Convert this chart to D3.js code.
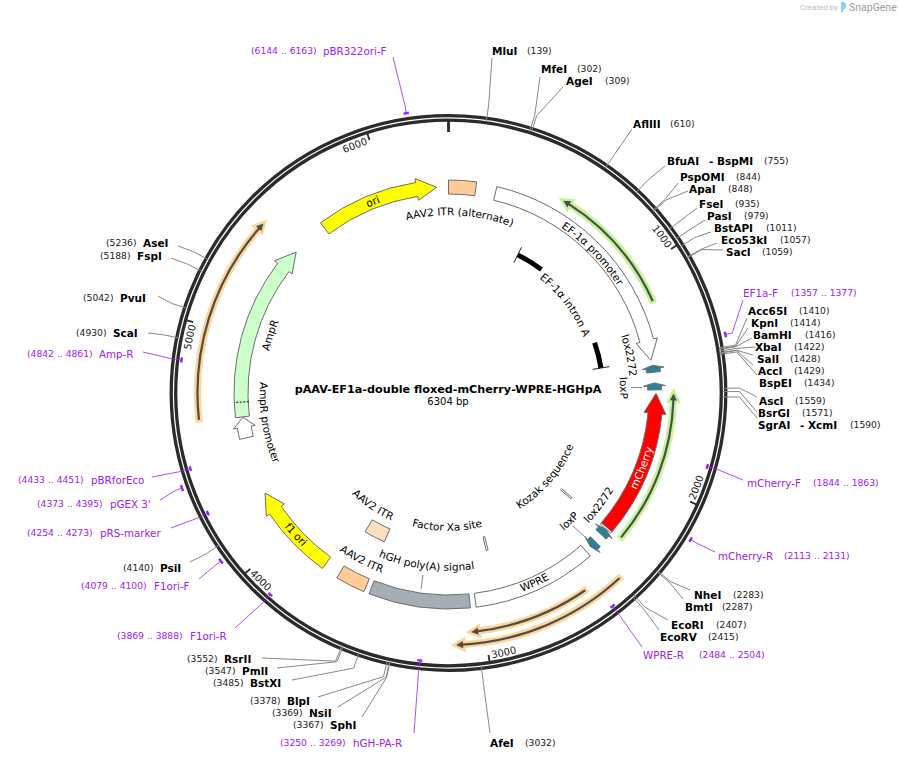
<!DOCTYPE html>
<html>
<head>
<meta charset="utf-8">
<style>
  body { margin: 0; background: #fff; }
  text { font-family: "DejaVu Sans", sans-serif; }
</style>
<script src="https://cdn.jsdelivr.net/npm/d3@7"></script>
</head>
<body>
<div id="chart"></div>
<script>
var plasmidName = "pAAV-EF1a-double floxed-mCherry-WPRE-HGHpA";
var plasmidLength = 6304;
var rulerTicks = [0, 1000, 2000, 3000, 4000, 5000, 6000];

// enzyme sites
var enzymeNames = ["MluI", "MfeI", "AgeI", "AflIII", "BfuAI", "PspOMI", "ApaI", "FseI", "PasI", "BstAPI", "Eco53kI", "SacI",
  "Acc65I", "KpnI", "BamHI", "XbaI", "SalI", "AccI", "BspEI", "AscI", "BsrGI", "SgrAI",
  "NheI", "BmtI", "EcoRI", "EcoRV", "AfeI",
  "SphI", "NsiI", "BlpI", "BstXI", "PmlI", "RsrII", "PsiI", "ScaI", "PvuI", "FspI", "AseI"];
var enzymeSites = [139, 302, 309, 610, 755, 844, 848, 935, 979, 1011, 1057, 1059,
  1410, 1414, 1416, 1422, 1428, 1429, 1434, 1559, 1571, 1590,
  2283, 2287, 2407, 2415, 3032,
  3367, 3369, 3378, 3485, 3547, 3552, 4140, 4930, 5042, 5188, 5236];
var enzymeAlso = { BfuAI: "- BspMI", SgrAI: "- XcmI" };

// primers
var primerNames = ["pBR322ori-F", "EF1a-F", "mCherry-F", "mCherry-R", "WPRE-R", "hGH-PA-R", "F1ori-R", "F1ori-F", "pRS-marker", "pGEX 3'", "pBRforEco", "Amp-R"];
var primerStarts = [6144, 1357, 1844, 2113, 2484, 3250, 3869, 4079, 4254, 4373, 4433, 4842];
var primerEnds = [6163, 1377, 1863, 2131, 2504, 3269, 3888, 4100, 4273, 4395, 4451, 4861];
var primerOutside = [true, true, false, true, false, false, false, true, false, true, false, false];

// plain block features
var blockNames = ["AAV2 ITR (alternate)", "hGH poly(A) signal", "WPRE", "AAV2 ITR", "AAV2 ITR inner", "Factor Xa site", "Kozak sequence", "ATG"];
var blockStarts = [0, 3050, 2434, 3556, 3560, 2904, 2281, 2282];
var blockEnds = [133, 3530, 3023, 3697, 3695, 2916, 2291, 2291];

// directional features, tail then tip
var arrowNames = ["ori", "EF-1α promoter", "AmpR", "AmpR promoter", "f1 ori", "mCherry", "lox2272", "loxP", "lox2272", "loxP"];
var arrowTails = [5657, 231, 4612, 4509, 3777, 2282, 1475, 1561, 2326, 2370];
var arrowTips = [6246, 1415, 5477, 4610, 4227, 1578, 1441, 1527, 2292, 2404];

// open reading frames, tail then tip
var orfTails = [1151, 2275, 2544, 2403, 4620];
var orfTips = [540, 1578, 3057, 3122, 5472];

// EF-1a intron A is drawn in two pieces with its label in the gap
var intronPieces = [[466, 648], [1244, 1413]];

// feature labels, by the position on the map they sit at
var labelTexts = ["ori", "AAV2 ITR (alternate)", "EF-1α promoter", "EF-1α intron A", "lox2272", "loxP", "mCherry", "lox2272", "loxP", "Kozak sequence", "WPRE", "Factor Xa site", "hGH poly(A) signal", "AAV2 ITR", "AAV2 ITR", "f1 ori", "AmpR promoter", "AmpR"];
var labelSites = [5926, 64, 805, 928, 1370, 1547, 1947, 2218, 2394, 2290, 2725, 3162, 3281, 3634, 3747, 3978, 4565, 5043];

// layout of everything below -----------------------------------------------
var w = 898, h = 760;
var cx = 448.5, cy = 393;
var bodyHalf = 7, headHalf = 11;

var enzymeLabelX = [492, 541, 566, 633, 667, 680, 689, 699, 707, 714, 721, 726,
  748, 751, 753, 755, 757, 758, 759, 759, 758, 758,
  694, 685, 671, 660, 490,
  330, 309, 287, 250, 242, 224, 160, 113, 120, 137, 143];
var enzymeLabelY = [51, 69, 81, 124, 161, 177, 189, 204, 216, 228, 240, 252,
  311, 323, 335, 347, 359, 371, 383, 401, 413, 425,
  595, 607, 625, 637, 743,
  725, 713, 701, 683, 671, 659, 568, 333, 298, 256, 243];
var enzymeSiteX = [527, 577, 605, 670, 764, 736, 728, 735, 744, 766, 780, 762,
  799, 790, 805, 794, 790, 794, 804, 795, 802, 850,
  733, 722, 716, 708, 525,
  293, 272, 250, 213, 205, 187, 123, 76, 83, 100, 106];
var enzymeAlsoX = { BfuAI: 709, SgrAI: 800 };
var enzymeLeaderEnds = [[492, 58], [540, 77], [563, 87], [632, 129], [665, 166], [678, 183], [688, 191], [697, 208], [705, 220], [711, 232], [717, 243], [723, 250],
  [747, 318], [748, 328], [752, 338], [755, 347], [753, 355], [753, 365], [757, 375], [757, 397], [757, 412], [757, 418],
  [690, 590], [683, 599], [668, 620], [659, 630], [490, 733],
  [362, 717], [338, 707], [318, 697], [292, 680], [277, 668], [262, 658], [190, 562], [148, 333], [158, 296], [171, 258], [178, 246]];

var primerNameX = [323, 743, 747, 718, 643, 353, 190, 154, 100, 110, 91, 99];
var primerSiteX = [251, 791, 813, 784, 699, 280, 117, 81, 27, 37, 18, 27];
var primerLabelY = [51, 293, 483, 556, 655, 743, 636, 586, 533, 504, 480, 354];
var primerLeaderEnds = [[393, 57], [743, 300], [743, 480], [715, 552], [642, 647], [414, 733], [235, 628], [199, 579], [171, 528], [160, 500], [152, 477], [143, 352]];

var blockFills = ["#FFCC99", "#A6ADB4", "#FFFFFF", "#FFCC99", "#FDDFC2", "#FFFFFF", "#FFFFFF", "#FFFFFF"];
var blockR = [206, 209, 209, 209, 155, 155, 155, 207.5];
var arrowFills = ["#FFFF00", "#FFFFFF", "#CCFFCC", "#FFFFFF", "#FFFF00", "#FF0000", "#2F7F99", "#2F7F99", "#2F7F99", "#2F7F99"];
var arrowHeads = [20, 20, 20, 10, 20, 20, 3, 3, 3, 3];
var arrowMid = [206, 205, 207.5, 207, 209, 207.5, 206, 206, 208, 209];
var orfR = [224, 225, 240, 252, 251];
var orfHalos = ["#C4F596", "#C4F596", "#FDD699", "#FDD699", "#FDD699"];
var labelR = [206, 181.5, 204, 150, 185.5, 175.5, 207.5, 187.5, 175.8, 132, 208, 134, 174, 188, 136, 208, 185, 188];
var labelInverted = [false, false, false, false, false, false, true, true, true, true, true, true, true, true, true, true, true, false];
var labelColors = labelTexts.map(function (d) { return d === "mCherry" ? "#FFFFFF" : "#000000"; });

var enzymeColor = "#888888", ringColor = "#2B2B2B", primerColor = "#A020F0";

var svg = d3.select("#chart").append("svg")
  .attr("width", w).attr("height", h)
  .style("display", "block");

var angle = d3.scaleLinear().domain([0, plasmidLength]).range([0, 2 * Math.PI]);

function polar(bp, r) {
  var a = angle(bp);
  return [cx + r * Math.sin(a), cy - r * Math.cos(a)];
}

// d3.path arcs count from 3 o'clock, the map counts from 12 o'clock
function arcTo(p, r, a0, a1) {
  p.arc(cx, cy, r, a0 - Math.PI / 2, a1 - Math.PI / 2, a1 < a0);
}

function moveR(p, r, a) { p.moveTo(cx + r * Math.sin(a), cy - r * Math.cos(a)); }
function lineR(p, r, a) { p.lineTo(cx + r * Math.sin(a), cy - r * Math.cos(a)); }

function arrowPath(tail, tip, r, body, head, headLen) {
  var a0 = angle(tail), a1 = angle(tip);
  var dir = a1 > a0 ? 1 : -1;
  var neck = a1 - dir * headLen / r;
  var p = d3.path();
  moveR(p, r + body, a0);
  arcTo(p, r + body, a0, neck);
  lineR(p, r + head, neck);
  lineR(p, r, a1);
  lineR(p, r - head, neck);
  lineR(p, r - body, neck);
  arcTo(p, r - body, neck, a0);
  p.closePath();
  return p.toString();
}

var blockArc = d3.arc();

// ruler ring goes below the primer marks
var ringLayer = svg.append("g");
var leaderLayer = svg.append("g");

// primers
primerNames.forEach(function (name, i) {
  var mid = (primerStarts[i] + primerEnds[i]) / 2;
  var r = primerOutside[i] ? 283 : 269;
  var elbow = polar(mid, primerOutside[i] ? 290 : 279);
  var start = polar(mid, r);
  leaderLayer.append("path")
    .attr("d", d3.line()([start, elbow, primerLeaderEnds[i]]))
    .attr("fill", "none")
    .attr("stroke", primerColor)
    .attr("stroke-opacity", 0.8);
  svg.append("path")
    .attr("d", blockArc({ innerRadius: r - 1.2, outerRadius: r + 1.2, startAngle: angle(primerStarts[i]), endAngle: angle(primerEnds[i]) }))
    .attr("transform", "translate(" + cx + "," + cy + ")")
    .attr("fill", primerColor);
  svg.append("text").attr("x", primerNameX[i]).attr("y", primerLabelY[i]).attr("dy", ".35em")
    .style("font-size", "10.3px").attr("fill", primerColor).text(name);
  svg.append("text").attr("x", primerSiteX[i]).attr("y", primerLabelY[i]).attr("dy", ".35em")
    .style("font-size", "9.2px").attr("fill", primerColor)
    .text("(" + primerStarts[i] + " .. " + primerEnds[i] + ")");
});

// ruler
[277.3, 272.8].forEach(function (r) {
  ringLayer.append("circle").attr("cx", cx).attr("cy", cy).attr("r", r)
    .attr("fill", "none").attr("stroke", ringColor).attr("stroke-width", 3.3);
});

// the zero tick is longer and heavier than the others
var ticks = rulerTicks.map(function (t) { return { bp: t, a: polar(t, 272), b: polar(t, t === 0 ? 261 : 265) }; });
svg.selectAll("line.tick").data(ticks).enter().append("line")
  .attr("class", "tick")
  .attr("x1", function (d) { return d.a[0]; }).attr("y1", function (d) { return d.a[1]; })
  .attr("x2", function (d) { return d.b[0]; }).attr("y2", function (d) { return d.b[1]; })
  .attr("stroke", ringColor).attr("stroke-width", function (d) { return d.bp === 0 ? 2.8 : 1.8; });

// text along the map
var pathId = 0;
function curved(text, bp, r, inverted, color, size) {
  var a = angle(bp);
  var base = r + (inverted ? 3.8 : -3.8);
  var shift = Math.PI / 2;
  var p = d3.path();
  if (inverted) {
    moveR(p, base, a + shift);
    arcTo(p, base, a + shift, a - shift);
  } else {
    moveR(p, base, a - shift);
    arcTo(p, base, a - shift, a + shift);
  }
  var id = "curve" + (pathId++);
  svg.append("path").attr("id", id).attr("d", p.toString()).attr("fill", "none");
  svg.append("text")
    .style("font-size", size + "px")
    .attr("fill", color)
    .attr("text-anchor", "middle")
    .append("textPath")
    .attr("href", "#" + id)
    .attr("startOffset", "50%")
    .text(text);
}

// ruler numbers end at their tick on the top half, start at it on the bottom half
rulerTicks.slice(1).forEach(function (t) {
  var lower = t > 1500 && t < 4500;
  var step = 15.5 / 265 / (2 * Math.PI) * plasmidLength;
  curved(String(t), t - step, 265, lower, "#222222", 10);
});

// features
blockNames.forEach(function (name, i) {
  svg.append("path")
    .attr("d", blockArc({ innerRadius: blockR[i] - bodyHalf, outerRadius: blockR[i] + bodyHalf, startAngle: angle(blockStarts[i]), endAngle: angle(blockEnds[i]) }))
    .attr("transform", "translate(" + cx + "," + cy + ")")
    .attr("fill", blockFills[i])
    .attr("stroke", "#6E6E6E")
    .attr("stroke-width", 1);
});

arrowNames.forEach(function (name, i) {
  svg.append("path")
    .attr("d", arrowPath(arrowTails[i], arrowTips[i], arrowMid[i], bodyHalf, headHalf, arrowHeads[i]))
    .attr("fill", arrowFills[i])
    .attr("stroke", "#6E6E6E")
    .attr("stroke-width", 1)
    .attr("stroke-linejoin", "miter");
});

// ampR promoter / ampR boundary
var dash = [polar(4684, 200), polar(4684, 214.5)];
svg.append("line")
  .attr("x1", dash[0][0]).attr("y1", dash[0][1]).attr("x2", dash[1][0]).attr("y2", dash[1][1])
  .attr("stroke", "#000").attr("stroke-dasharray", "2,1.5");

// ORFs
orfTails.forEach(function (tail, i) {
  var d = arrowPath(tail, orfTips[i], orfR[i], 1.1, 3.6, 7);
  svg.append("path").attr("d", d).attr("fill", orfHalos[i]).attr("stroke", orfHalos[i]).attr("stroke-width", 5);
  svg.append("path").attr("d", d).attr("fill", "#4D4D4D");
});

// intron
intronPieces.forEach(function (piece, i) {
  svg.append("path")
    .attr("d", blockArc({ innerRadius: 152, outerRadius: 157, startAngle: angle(piece[0]), endAngle: angle(piece[1]) }))
    .attr("transform", "translate(" + cx + "," + cy + ")")
    .attr("fill", "#000");
  var end = i === 0 ? piece[0] : piece[1];
  var a = polar(end, 146), b = polar(end, 163);
  svg.append("line").attr("x1", a[0]).attr("y1", a[1]).attr("x2", b[0]).attr("y2", b[1])
    .attr("stroke", "#222").attr("stroke-width", 1);
});

// feature labels
labelTexts.forEach(function (t, i) {
  curved(t, labelSites[i], labelR[i], labelInverted[i], labelColors[i], 10.5);
});

// little leaders from a label to its feature
[[[631, 387.5], [642, 387.5]], [[573, 526], [586, 538]], [[423, 575], [421, 589]]].forEach(function (seg) {
  svg.append("path").attr("d", d3.line()(seg)).attr("stroke", "#888").attr("fill", "none");
});

// enzymes
enzymeNames.forEach(function (name, i) {
  var start = polar(enzymeSites[i], 274);
  var elbow = polar(enzymeSites[i], 291);
  svg.append("path")
    .attr("d", d3.line()([start, elbow, enzymeLeaderEnds[i]]))
    .attr("fill", "none").attr("stroke", enzymeColor).attr("stroke-width", 1);
  svg.append("text").attr("x", enzymeLabelX[i]).attr("y", enzymeLabelY[i]).attr("dy", ".35em")
    .style("font-size", "10.5px").style("font-weight", "bold").text(name);
  if (enzymeAlso[name]) {
    svg.append("text").attr("x", enzymeAlsoX[name]).attr("y", enzymeLabelY[i]).attr("dy", ".35em")
      .style("font-size", "10.5px").style("font-weight", "bold").text(enzymeAlso[name]);
  }
  svg.append("text").attr("x", enzymeSiteX[i]).attr("y", enzymeLabelY[i]).attr("dy", ".35em")
    .style("font-size", "9.2px").attr("fill", "#222").text("(" + enzymeSites[i] + ")");
});

// title
svg.append("text").attr("x", 448).attr("y", 389).attr("dy", ".35em")
  .attr("text-anchor", "middle")
  .style("font-size", "11.2px").style("font-weight", "bold")
  .text(plasmidName);
svg.append("text").attr("x", 448).attr("y", 401).attr("dy", ".35em")
  .attr("text-anchor", "middle")
  .style("font-size", "10px")
  .text(plasmidLength + " bp");

// watermark
svg.append("text").attr("x", 800).attr("y", 10).style("font-family", "Roboto").style("font-size", "8px").attr("fill", "#BDBDBD").text("Created by");
svg.append("path").attr("d", "M841 2h3q4 3 1 7l-2 1v2h-2z").attr("fill", "#8CCFEF");
svg.append("text").attr("x", 849).attr("y", 11).style("font-family", "Roboto").style("font-size", "10.5px").attr("fill", "#9E9E9E").text("SnapGene");
</script>
</body>
</html>
